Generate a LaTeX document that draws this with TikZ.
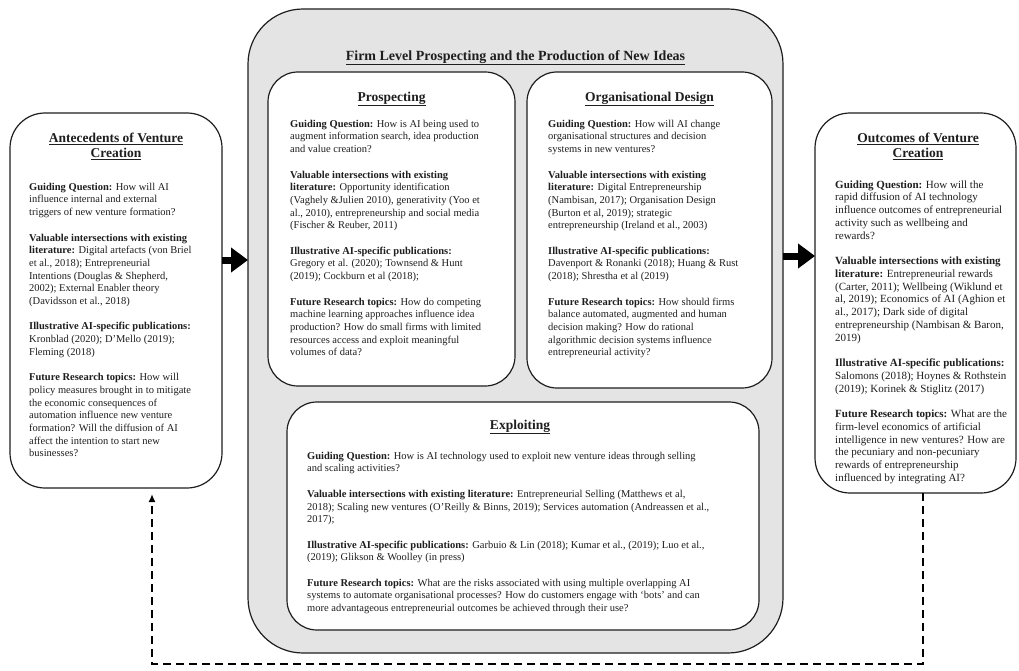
\documentclass[tikz,border=0pt]{standalone}
\usepackage{fontspec}
\setmainfont{Liberation Serif}
\usetikzlibrary{arrows.meta}
\definecolor{ink}{RGB}{30,30,30}
\definecolor{dotgray}{RGB}{228,228,228}
\begin{document}
\begin{tikzpicture}[x=1pt,y=-1pt,
  box/.style={draw=ink, line width=1.2pt, fill=white, rounded corners=30pt, outer sep=0pt, inner sep=0pt},
  txt/.style={anchor=north west, inner sep=0pt, align=left, text=ink, font=\fontsize{10.5}{12.7}\selectfont},
  ttl/.style={anchor=north, inner sep=0pt, align=center, text=ink, font=\fontsize{13.5}{15.5}\selectfont\bfseries},
  blockarrow/.style={line width=7pt, draw=black, -{Triangle[length=17pt,width=24pt]}},
  loopline/.style={line width=2.4pt, draw=black, dash pattern=on 8pt off 5pt}
]
\useasboundingbox (0,0) rectangle (1019,671);
\newcommand{\fs}{\rule{0pt}{8pt}}
\newcommand{\ts}{\rule{0pt}{11pt}}

% outer firm-level box
\node[box, fill=dotgray, rounded corners=55pt, minimum width=535pt, minimum height=644pt] (firm) at (515.5,331) {};
\node[ttl, font=\fontsize{14}{16}\selectfont\bfseries] (firmt) at (515.5,48) {\rule{0pt}{12pt}\underline{Firm Level Prospecting and the Production of New Ideas}};

% inner boxes
\node[box, minimum width=247pt, minimum height=314pt] (pros) at (391.5,229) {};
\node[box, minimum width=245pt, minimum height=316pt] (org) at (649.5,230) {};
\node[box, minimum width=472pt, minimum height=228pt] (expl) at (523,516) {};

% side boxes
\node[box, rounded corners=35pt, minimum width=212pt, minimum height=375pt] (ante) at (116,300.5) {};
\node[box, rounded corners=35pt, minimum width=201pt, minimum height=380pt] (outc) at (915.5,303) {};

% titles
\node[ttl] (antet) at (116,131) {\ts\underline{Antecedents of Venture}\\\underline{Creation}};
\node[ttl] (prost) at (391.5,90) {\ts\underline{Prospecting}};
\node[ttl] (orgt) at (649.5,90) {\ts\underline{Organisational Design}};
\node[ttl] (explt) at (520,418) {\ts\underline{Exploiting}};
\node[ttl] (outct) at (918,131) {\ts\underline{Outcomes of Venture}\\\underline{Creation}};

% left text
\node[txt] (antex) at (29,182) {\fs\textbf{Guiding Question:} How will AI\\
influence internal and external\\
triggers of new venture formation?\\[12.7pt]
\textbf{Valuable intersections with existing}\\
\textbf{literature:} Digital artefacts (von Briel\\
et al., 2018); Entrepreneurial\\
Intentions (Douglas \& Shepherd,\\
2002); External Enabler theory\\
(Davidsson et al., 2018)\\[12.7pt]
\textbf{Illustrative AI-specific publications:}\\
Kronblad (2020); D’Mello (2019);\\
Fleming (2018)\\[12.7pt]
\textbf{Future Research topics:} How will\\
policy measures brought in to mitigate\\
the economic consequences of\\
automation influence new venture\\
formation? Will the diffusion of AI\\
affect the intention to start new\\
businesses?};

% prospecting text
\node[txt] (prosx) at (290,119) {\fs\textbf{Guiding Question:} How is AI being used to\\
augment information search, idea production\\
and value creation?\\[12.7pt]
\textbf{Valuable intersections with existing}\\
\textbf{literature:} Opportunity identification\\
(Vaghely \&Julien 2010), generativity (Yoo et\\
al., 2010), entrepreneurship and social media\\
(Fischer \& Reuber, 2011)\\[12.7pt]
\textbf{Illustrative AI-specific publications:}\\
Gregory et al. (2020); Townsend \& Hunt\\
(2019); Cockburn et al (2018);\\[12.7pt]
\textbf{Future Research topics:} How do competing\\
machine learning approaches influence idea\\
production? How do small firms with limited\\
resources access and exploit meaningful\\
volumes of data?};

% organisational design text
\node[txt] (orgx) at (548,119) {\fs\textbf{Guiding Question:} How will AI change\\
organisational structures and decision\\
systems in new ventures?\\[12.7pt]
\textbf{Valuable intersections with existing}\\
\textbf{literature:} Digital Entrepreneurship\\
(Nambisan, 2017); Organisation Design\\
(Burton et al, 2019); strategic\\
entrepreneurship (Ireland et al., 2003)\\[12.7pt]
\textbf{Illustrative AI-specific publications:}\\
Davenport \& Ronanki (2018); Huang \& Rust\\
(2018); Shrestha et al (2019)\\[12.7pt]
\textbf{Future Research topics:} How should firms\\
balance automated, augmented and human\\
decision making? How do rational\\
algorithmic decision systems influence\\
entrepreneurial activity?};

% exploiting text
\node[txt] (explx) at (307,451) {\fs\textbf{Guiding Question:} How is AI technology used to exploit new venture ideas through selling\\
and scaling activities?\\[12.7pt]
\textbf{Valuable intersections with existing literature:} Entrepreneurial Selling (Matthews et al,\\
2018); Scaling new ventures (O’Reilly \& Binns, 2019); Services automation (Andreassen et al.,\\
2017);\\[12.7pt]
\textbf{Illustrative AI-specific publications:} Garbuio \& Lin (2018); Kumar et al., (2019); Luo et al.,\\
(2019); Glikson \& Woolley (in press)\\[12.7pt]
\textbf{Future Research topics:} What are the risks associated with using multiple overlapping AI\\
systems to automate organisational processes? How do customers engage with ‘bots’ and can\\
more advantageous entrepreneurial outcomes be achieved through their use?};

% right text
\node[txt, font=\fontsize{11}{12.75}\selectfont] (outcx) at (835,180) {\fs\textbf{Guiding Question:} How will the\\
rapid diffusion of AI technology\\
influence outcomes of entrepreneurial\\
activity such as wellbeing and\\
rewards?\\[12.75pt]
\textbf{Valuable intersections with existing}\\
\textbf{literature:} Entrepreneurial rewards\\
(Carter, 2011); Wellbeing (Wiklund et\\
al, 2019); Economics of AI (Aghion et\\
al., 2017); Dark side of digital\\
entrepreneurship (Nambisan \& Baron,\\
2019)\\[12.75pt]
\textbf{Illustrative AI-specific publications:}\\
Salomons (2018); Hoynes \& Rothstein\\
(2019); Korinek \& Stiglitz (2017)\\[12.75pt]
\textbf{Future Research topics:} What are the\\
firm-level economics of artificial\\
intelligence in new ventures? How are\\
the pecuniary and non-pecuniary\\
rewards of entrepreneurship\\
influenced by integrating AI?};

% block arrows
\coordinate (ayl) at (0,260);
\coordinate (ayr) at (0,256);
\draw[blockarrow] (ante.east |- ayl) -- (firm.west |- ayl);
\draw[blockarrow] (firm.east |- ayr) -- (outc.west |- ayr);

% dashed feedback loop
\coordinate (dR) at (923,664);
\coordinate (dL) at (152,664);
\draw[loopline, -{Latex[length=8pt,width=7pt]}] (outc.south -| dR) -- (dR) -- (dL) -- ([yshift=-6pt]ante.south -| dL);
\end{tikzpicture}
\end{document}
